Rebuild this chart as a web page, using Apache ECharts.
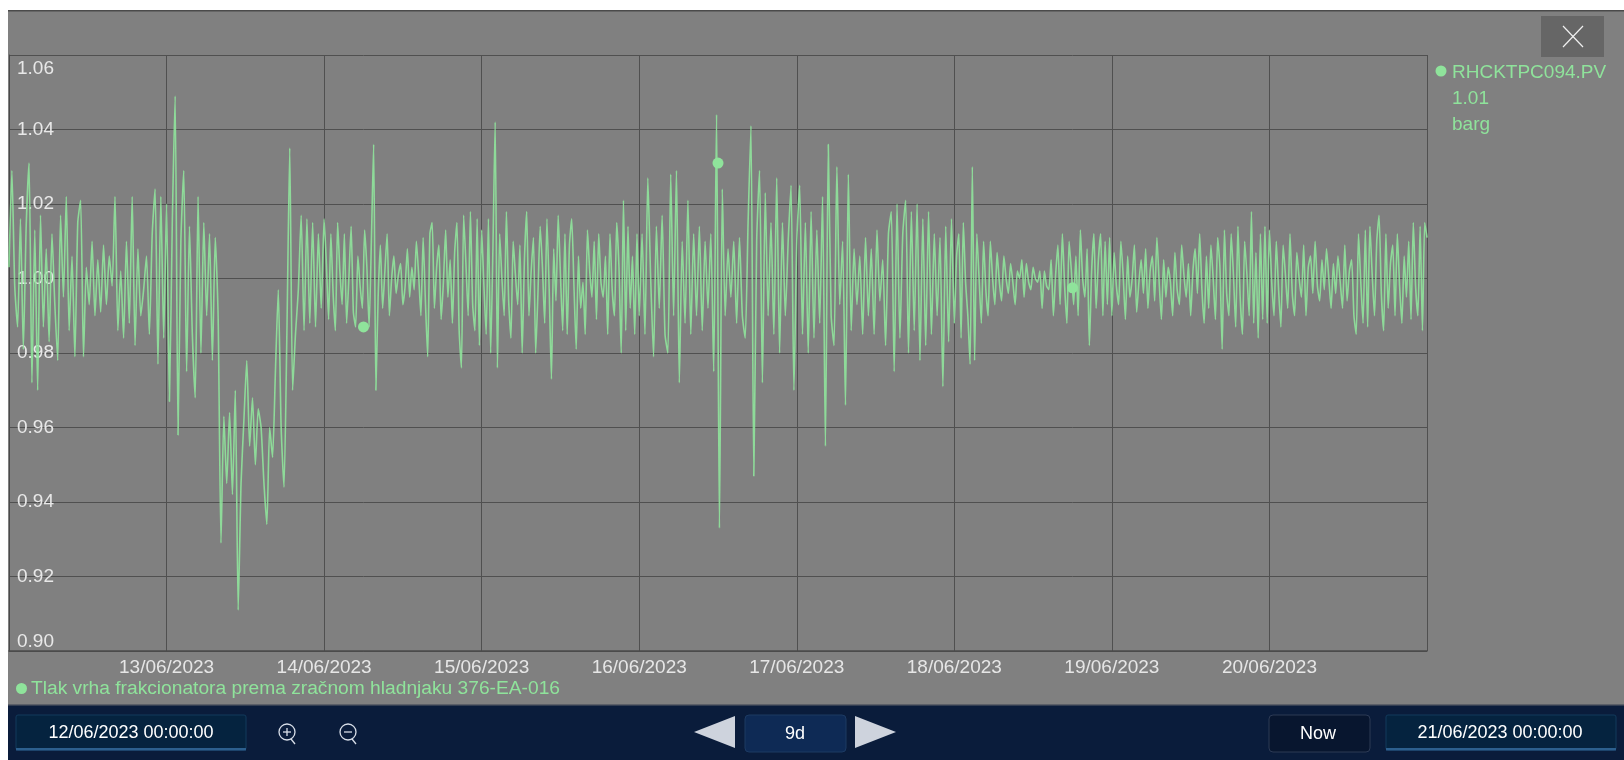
<!DOCTYPE html>
<html><head><meta charset="utf-8">
<style>html,body{margin:0;padding:0;background:#fff}#c{width:1624px;height:760px}</style>
<script src="https://cdn.jsdelivr.net/npm/echarts@6/dist/echarts.min.js"></script>
</head><body><div id="c"></div>
<script>
const dayLabels=['12/06/2023','13/06/2023','14/06/2023','15/06/2023','16/06/2023','17/06/2023','18/06/2023','19/06/2023','20/06/2023','21/06/2023'];
const yTicks=[0.90,0.92,0.94,0.96,0.98,1.00,1.02,1.04,1.06];
const seriesName='Tlak vrha frakcionatora prema zračnom hladnjaku 376-EA-016';
const tagName='RHCKTPC094.PV', tagValue='1.01', tagUnit='barg';
const rangeStart='12/06/2023 00:00:00', rangeEnd='21/06/2023 00:00:00', rangeSpan='9d', nowLabel='Now';
const day12=[1.003,1.029,0.998,0.987,1.016,0.981,1.014,1.031,0.972,1.013,0.970,1.017,0.987,1.008,0.983,1.012,0.993,0.978,1.017,0.995,1.022,0.986,1.006,0.979,1.015,1.021,0.979,1.003,0.993,1.010,0.990,1.005,0.991,1.009,0.993,1.006,0.998,1.022,0.986,1.002,0.984,1.010,0.988,1.022,0.982,1.008,0.990,0.997,1.006,0.985,1.012,1.024,0.977,1.022,0.984];
const day13=[1.020,0.967,1.015,1.049,0.958,1.010,1.029,0.975,1.014,0.985,0.968,1.022,0.980,1.015,0.990,1.012,0.978,1.011,0.990,0.929,0.963,0.945,0.964,0.942,0.970,0.911,0.945,0.962,0.978,0.955,0.968,0.950,0.965,0.960,0.945,0.934,0.960,0.952,0.975,0.997,0.960,0.944,0.985,1.035,0.970,0.985,0.997,1.017,0.986,1.016,0.988,1.015,0.987,1.012,0.992];
const day14=[1.016,1.004,0.989,1.012,0.996,0.986,1.015,1.002,0.993,1.012,0.988,1.000,1.014,0.991,0.987,1.006,0.998,0.992,1.013,1.003,0.987,1.010,1.036,0.970,0.995,1.009,0.992,1.002,1.012,0.990,1.000,1.006,0.996,1.001,1.004,0.993,0.998,1.008,0.995,1.003,0.997,1.010,1.001,0.990,1.011,0.994,0.979,1.012,1.015,0.992,1.003,1.009,0.989,0.999,1.013,0.995,1.005,0.988,1.007,1.015,0.986,0.976,1.017,1.004,0.990,1.018,0.993,0.986,1.016,0.982];
const day15=[1.013,0.998,0.985,1.016,0.980,1.008,1.042,0.976,1.012,1.000,0.990,1.018,0.994,0.984,1.010,1.001,0.993,1.009,0.980,1.005,1.018,0.990,1.002,1.011,0.980,0.996,1.014,1.003,0.988,1.016,0.997,0.973,1.008,0.994,1.017,1.001,0.986,1.012,0.985,1.009,1.016,0.998,0.981,1.006,0.992,0.999,0.985,1.013,1.002,0.995,1.010,0.989,1.012,0.999,0.995,1.006,0.985,1.012,0.997,0.990,1.015,1.003,0.980,1.021,0.986,1.014,0.992,1.006,0.985,1.012];
const day16=[0.990,1.012,0.985,1.027,1.000,0.979,1.014,0.992,1.017,0.985,0.980,1.028,0.990,1.029,0.972,1.010,0.988,1.021,0.985,1.012,0.990,1.014,0.986,1.010,0.992,1.012,0.975,1.044,0.933,1.024,0.990,1.008,0.995,1.010,0.988,1.011,0.990,0.984,1.015,1.041,0.947,1.010,1.029,0.972,1.023,0.990,1.015,0.985,1.027,0.980,1.015,0.990,1.010,1.025,0.970];
const day17=[1.010,1.025,0.985,1.015,0.980,1.018,0.984,1.013,0.988,1.022,0.955,1.036,0.990,0.982,1.030,0.993,1.010,0.966,1.028,0.986,1.008,0.993,1.006,0.985,1.011,0.990,1.008,0.985,1.013,0.994,1.005,0.982,1.012,1.018,0.975,1.020,0.984,1.012,1.021,0.980,1.018,0.986,1.020,0.978,1.016,0.982,1.018,0.985,1.012,0.990,1.011,0.971,1.014,0.983,1.016];
const day18=[0.988,1.006,1.012,0.984,1.015,0.999,0.990,0.977,1.030,0.978,1.012,1.000,0.988,1.010,0.997,0.990,1.010,1.000,0.993,1.007,0.999,0.994,1.006,1.000,0.996,1.004,0.999,0.993,1.002,1.000,1.005,0.995,1.004,0.999,0.997,1.003,1.000,0.999,1.002,0.992,1.002,0.998,0.997,1.005,0.990,1.001,1.009,0.993,1.012,0.998,0.988,1.010,1.002,0.993,1.006,0.990,1.013,1.000,0.995,1.008,0.982,1.002,1.012,0.992,1.005,1.012,0.990,1.010,0.993,1.011];
const day19=[0.990,1.007,0.998,0.993,1.010,1.001,0.989,1.006,0.995,1.000,1.009,0.991,0.999,1.005,0.996,1.008,0.992,1.002,1.006,0.994,1.011,0.999,0.989,1.005,0.995,1.003,0.999,0.990,1.007,0.997,0.993,1.009,1.001,0.995,1.004,0.990,1.002,1.008,0.996,1.012,0.997,0.988,1.006,0.992,1.009,1.000,0.989,1.011,1.003,0.981,1.013,0.996,0.990,1.012,1.001,0.987,1.014,0.995,0.985,1.010,1.001,0.990,1.018,0.988,1.007,0.984,1.012,0.989,1.014,0.988];
const day20=[1.013,0.999,0.990,1.010,0.997,0.987,1.009,1.001,0.992,1.012,0.996,0.990,1.007,1.000,0.995,1.009,0.990,1.003,1.006,0.996,1.010,0.998,0.994,1.005,0.997,1.008,1.000,0.992,1.004,0.996,1.006,0.999,0.992,1.009,0.994,1.002,1.005,0.990,0.985,1.012,0.999,0.988,1.013,0.987,1.014,1.001,0.990,1.010,1.017,0.996,0.986,1.012,0.992,1.004,1.009,0.990,1.012,0.998,0.988,1.006,0.995,1.010,0.989,1.015,0.998,0.990,1.014,0.986,1.015,1.011];
const markerDays=[2.25,4.5,6.75];
const markerValues=[0.987,1.031,0.9975];

const days=[day12,day13,day14,day15,day16,day17,day18,day19,day20];
const linePoints=[];
days.forEach((vals,d)=>{
  const den=d===days.length-1?vals.length-1:vals.length;
  vals.forEach((v,i)=>linePoints.push([d+i/den,v]));
});
const GREEN='#8fe39b', NAVY='#0a1c3b', FONT='"Liberation Sans",Arial,sans-serif';
const txt=(x,y,text,opt)=>({type:'text',x,y,silent:true,style:Object.assign({text,fill:'#fff',font:'18px '+FONT,textAlign:'center',textVerticalAlign:'middle'},opt||{})});
const rect=(x,y,w,h,fill,extra)=>({type:'rect',x,y,shape:Object.assign({width:w,height:h},extra&&extra.shape||{}),style:Object.assign({fill},extra&&extra.style||{}),silent:true});
const tri=(pts,fill)=>({type:'polygon',shape:{points:pts},style:{fill},silent:true});
const lineEl=(x1,y1,x2,y2,stroke,w)=>({type:'line',shape:{x1,y1,x2,y2},style:{stroke,lineWidth:w},silent:true});
const lens=(cx,cy,minus)=>{
  const a=[{type:'circle',shape:{cx,cy,r:8},style:{fill:'none',stroke:'#d8dee8',lineWidth:1.3},silent:true},
    lineEl(cx-4,cy,cx+4,cy,'#d8dee8',1.3),lineEl(cx+4,cy+7,cx+8,cy+12,'#d8dee8',1.3)];
  if(!minus)a.push(lineEl(cx,cy-4,cx,cy+4,'#d8dee8',1.3));
  return a;
};
const back=[
  rect(8,10,1616,695,'#808080'),
  rect(8,10,1616,1.5,'#4a4a4a'),
  rect(8,705,1616,55,NAVY),
  rect(8,704,1616,1.5,'#5b5f68')
];
const front=[
  rect(1541,16,63,41,'#666666'),
  lineEl(1563,26,1583,47,'#f0f0f0',1.2),lineEl(1583,26,1563,47,'#f0f0f0',1.2),
  {type:'circle',shape:{cx:1441,cy:71,r:5.5},style:{fill:GREEN},silent:true},
  txt(1452,73,tagName,{font:'19px '+FONT,fill:GREEN,textAlign:'left'}),
  txt(1452,99,tagValue,{font:'19px '+FONT,fill:GREEN,textAlign:'left'}),
  txt(1452,125,tagUnit,{font:'19px '+FONT,fill:GREEN,textAlign:'left'}),
  rect(16,715,230,35,'#05233f',{shape:{r:2},style:{stroke:'#123a5c',lineWidth:1}}),
  rect(16,748,230,2.5,'#2c5f8e'),
  txt(131,733,rangeStart),
  ...lens(287,732,false),...lens(348,732,true),
  tri([[694,732],[735,716],[735,748]],'#ced3dd'),
  rect(745,715,101,37,'#0e2a55',{shape:{r:4},style:{stroke:'#1c3a63',lineWidth:1}}),
  txt(795,734,rangeSpan),
  tri([[896,732],[855,716],[855,748]],'#ced3dd'),
  rect(1269,715,101,37,'#08162f',{shape:{r:4},style:{stroke:'#2c3a55',lineWidth:1}}),
  txt(1318,734,nowLabel),
  rect(1386,715,230,35,'#05233f',{shape:{r:2},style:{stroke:'#123a5c',lineWidth:1}}),
  rect(1386,748,230,2.5,'#2c5f8e'),
  txt(1500,733,rangeEnd)
];
const chart=echarts.init(document.getElementById('c'),null,{renderer:'canvas'});
chart.setOption({
  animation:false,
  backgroundColor:'#ffffff',
  textStyle:{fontFamily:FONT},
  graphic:{elements:[{type:'group',z:-10,zlevel:0,children:back},{type:'group',z:50,children:front}]},
  legend:{show:true,left:16,top:679,icon:'circle',itemWidth:11,itemHeight:11,itemGap:0,padding:0,selectedMode:false,
    data:[seriesName],textStyle:{color:GREEN,fontSize:19.2,fontFamily:FONT,padding:[0,0,0,-1]}},
  grid:{left:9,right:197,top:55,bottom:109,containLabel:false,show:false},
  xAxis:{type:'value',min:0,max:9,interval:1,
    axisLine:{show:true,lineStyle:{color:'#4a4a4a',width:1.5}},axisTick:{show:false},
    splitLine:{show:true,lineStyle:{color:'#505050',width:1}},
    axisLabel:{color:'#e6e6e6',fontSize:19,fontFamily:FONT,margin:7,showMinLabel:false,showMaxLabel:false,
      hideOverlap:false,formatter:v=>dayLabels[v]||''}},
  yAxis:{type:'value',min:yTicks[0],max:yTicks[yTicks.length-1],interval:0.02,
    axisLine:{show:true,onZero:false,lineStyle:{color:'#4a4a4a',width:1}},axisTick:{show:false},
    splitLine:{show:true,lineStyle:{color:'#505050',width:1}},
    axisLabel:{inside:true,color:'#e8e8e8',fontSize:19,fontFamily:FONT,margin:8,
      verticalAlignMinLabel:'bottom',verticalAlignMaxLabel:'top',
      rich:{top:{color:'#e8e8e8',fontSize:19,fontFamily:FONT,padding:[4,0,0,0]}},
      formatter:v=>v>1.059?'{top|'+v.toFixed(2)+'}':v.toFixed(2)}},
  series:[
    {name:seriesName,type:'line',data:linePoints,symbol:'none',smooth:0.2,sampling:null,
      lineStyle:{color:GREEN,width:1.6,opacity:0.9},itemStyle:{color:GREEN},clip:true,z:3},
    {name:'markers',type:'scatter',data:markerDays.map((d,i)=>[d,markerValues[i]]),symbolSize:11,
      itemStyle:{color:GREEN,opacity:1},z:4}
  ]
});
</script></body></html>
